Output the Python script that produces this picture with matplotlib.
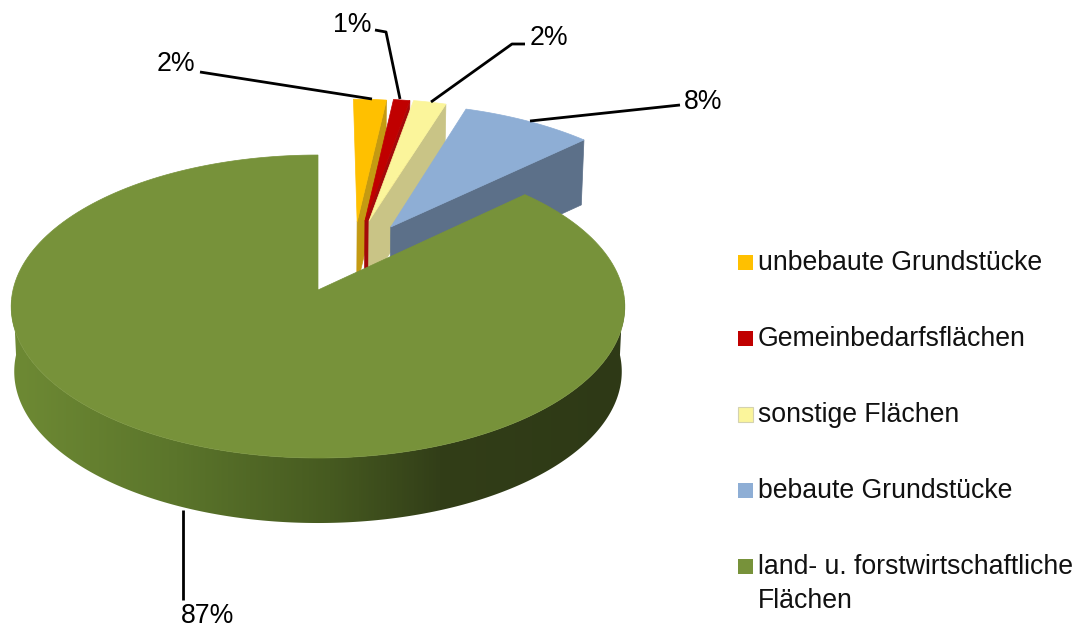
import matplotlib
matplotlib.use('Agg')
import matplotlib.pyplot as plt
import numpy as np
from matplotlib.colors import LinearSegmentedColormap
from matplotlib.patches import Polygon, Rectangle

plt.rcParams['font.family'] = ['Liberation Sans', 'DejaVu Sans']

categories = ['unbebaute Grundstücke', 'Gemeinbedarfsflächen', 'sonstige Flächen',
              'bebaute Grundstücke', 'land- u. forstwirtschaftliche\nFlächen']
values = [2, 1, 2, 8, 87]
top_colors = ['#FFC000', '#C00000', '#FBF59B', '#8EAED5', '#77923A']
side_colors = ['#C49A12', '#A40A0A', '#C9C486', '#5C7089', '#4A5C24']
legend_edges = ['none', 'none', '#D4D2B0', 'none', 'none']
explode = [(0.135, 0.48), (0.162, 0.485), (0.176, 0.485), (0.25, 0.441), (0, 0)]

# pie plane -> picture, small perspective so the front looks bigger than the back
CX, CY = 318, 290
RX, RY = 305, 149.7
K = 0.109
DEPTH = 65


def project(u, v):
    w = 1 + K * v
    return CX + RX * u / w, CY - RY * v / w


def slice_outline(start, end, off):
    # angles in degrees clockwise from 12 o'clock
    t = np.radians(np.linspace(start, end, 200))
    u = np.r_[0, np.sin(t)] + off[0]
    v = np.r_[0, np.cos(t)] + off[1]
    return np.column_stack(project(u, v))


def lower(pts):
    # same points on the underside of the disc
    return np.column_stack([CX + (pts[:, 0] - CX) * 0.99, pts[:, 1] + DEPTH])


fig = plt.figure(figsize=(10.8, 6.28), dpi=100)
ax = fig.add_axes([0, 0, 1, 1])

angles = np.r_[0, np.cumsum(values)] / np.sum(values) * 360

# exploded slices, left to right, each one covers the side of the one before
for i in range(4):
    pts = slice_outline(angles[i], angles[i + 1], explode[i])
    edge = np.array([pts[0], pts[-1]])
    side = np.vstack([edge, lower(edge)[::-1]])
    ax.add_patch(Polygon(side, closed=True, fc=side_colors[i], ec=side_colors[i], lw=0.5))
    ax.add_patch(Polygon(pts, closed=True, fc=top_colors[i], ec=top_colors[i], lw=0.5))

# rim of the big slice with its left to right shading
t = np.radians(np.linspace(90, 270, 300))
rim = np.column_stack(project(np.sin(t), np.cos(t)))
rim_poly = Polygon(np.vstack([rim, lower(rim)[::-1]]), closed=True, transform=ax.transData)
rim_cmap = LinearSegmentedColormap.from_list('rim', [
    (0.0, '#6E8A34'), (0.27, '#5B752B'), (0.52, '#465A20'),
    (0.7, '#323E18'), (1.0, '#2E3916')])
grad = ax.imshow(np.linspace(0, 1, 600).reshape(1, -1), cmap=rim_cmap, aspect='auto',
                 extent=(10, 626, 530, 300), zorder=2)
grad.set_clip_path(rim_poly)

pts = slice_outline(angles[4], angles[5], explode[4])
ax.add_patch(Polygon(pts, closed=True, fc=top_colors[4], ec=top_colors[4], lw=0.5, zorder=3))

# leader lines and percent labels
leaders = [
    ([200, 372], [72, 99]),
    ([375, 386, 400], [30, 32, 99]),
    ([525, 512, 431], [44, 44, 102]),
    ([680, 530], [105, 121]),
    ([183, 183], [510, 600]),
]
label_pos = [(176, 64), (352, 25), (549, 38), (703, 102), (208, 616)]
for (lx, ly), (tx, ty), val in zip(leaders, label_pos, values):
    ax.plot(lx, ly, color='black', lw=2, zorder=4, solid_capstyle='butt')
    ax.text(tx, ty, f'{val}%', fontsize=19.2, ha='center', va='center', color='black', zorder=5)

# legend
legend_y = [262, 338, 414, 490, 566]
for name, col, edge_col, y in zip(categories, top_colors, legend_edges, legend_y):
    ax.add_patch(Rectangle((738, y - 7), 14.5, 14.5, fc=col, ec=edge_col, lw=0.8, zorder=4))
    ax.text(758, y - 12, name, fontsize=19.2, ha='left', va='top', color='#111111',
            linespacing=1.39, zorder=5)

ax.set_xlim(0, 1080)
ax.set_ylim(628, 0)
ax.axis('off')
fig.savefig('out.png', dpi=100)
